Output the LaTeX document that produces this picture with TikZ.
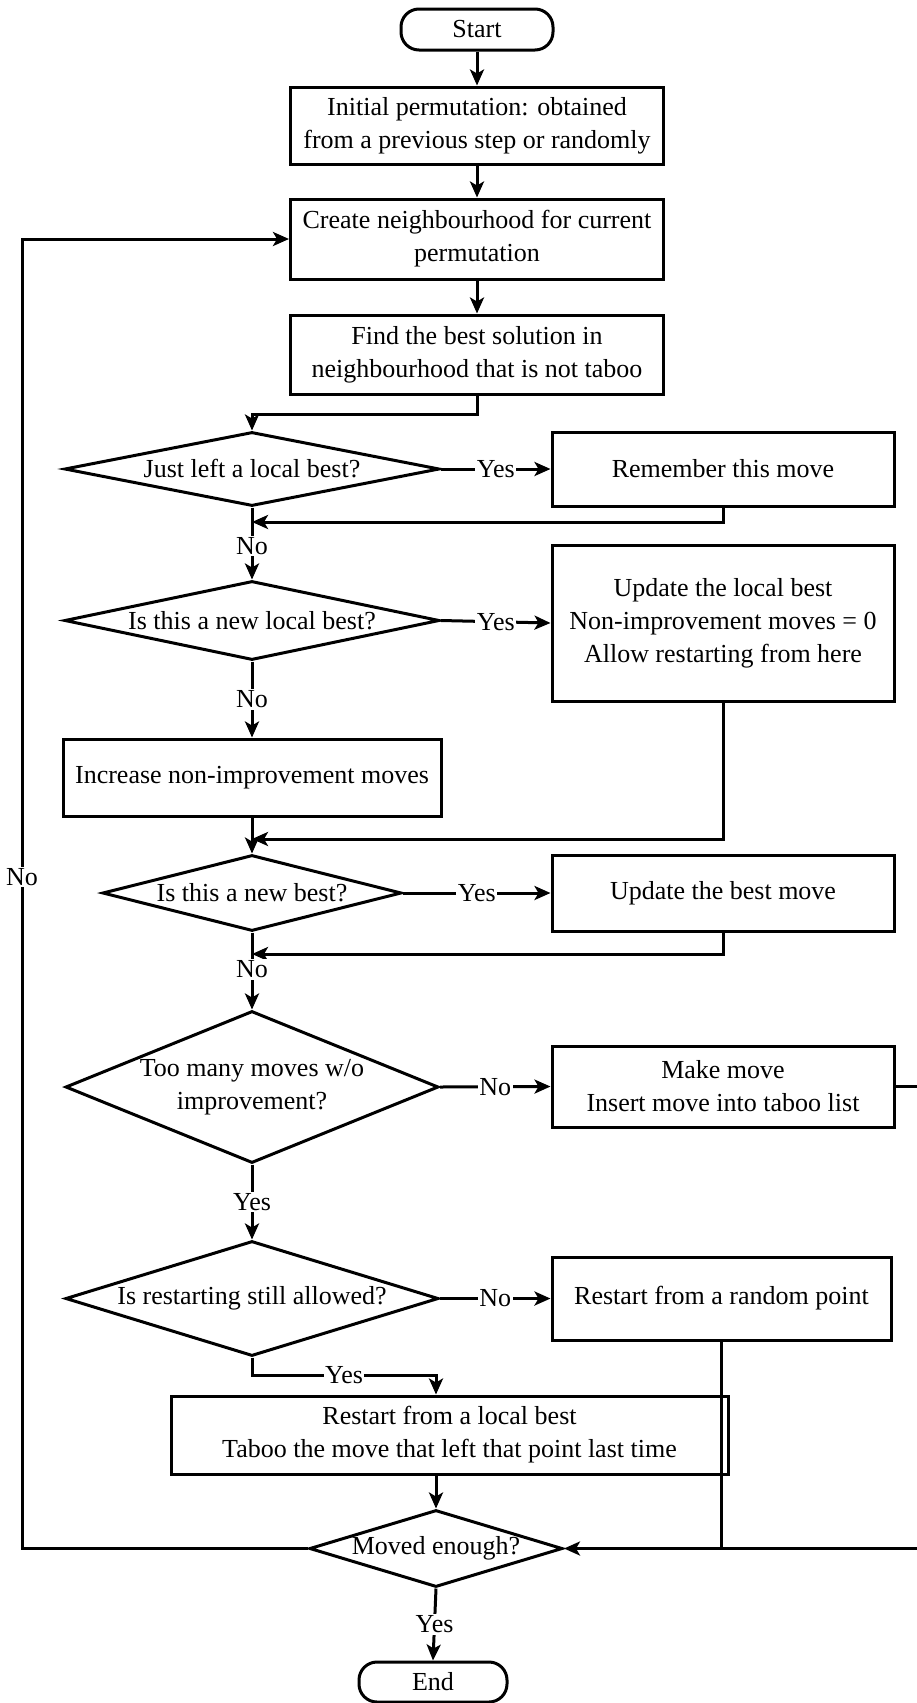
\documentclass[tikz,border=0pt]{standalone}
\usepackage{fontspec}
\setmainfont{Liberation Serif}
\usetikzlibrary{shapes.geometric,arrows.meta,calc}
\begin{document}
\begin{tikzpicture}[x=1pt,y=-1pt,
  font=\fontsize{26}{33}\selectfont,
  line width=3pt,
  box/.style={draw, rectangle, inner sep=0pt, align=center},
  term/.style={draw, rectangle, rounded corners=18pt, inner sep=0pt},
  dia/.style={draw, diamond, inner sep=0pt},
  arr/.style={-{Stealth[length=16pt,width=14pt,inset=4pt]}},
  lbl/.style={fill=white, inner sep=1.5pt}]
\useasboundingbox (0,0) rectangle (916,1703);

% main column
\node[term, minimum width=152pt, minimum height=41pt] (start) at (477,29.5) {Start};
\node[box, minimum width=373pt, minimum height=77pt] (init) at (477,125.5)
  {Initial permutation: obtained\\from a previous step or randomly};
\node[box, minimum width=373pt, minimum height=80pt] (create) at (477,239)
  {Create neighbourhood for current\\permutation};
\node[box, minimum width=373pt, minimum height=79pt] (find) at (477,354.5)
  {Find the best solution in\\neighbourhood that is not taboo};

% decisions on the left column
\node[dia, minimum width=375pt, minimum height=74pt,
  label={center:Just left a local best?}] (d1) at (252,469) {};
\node[dia, minimum width=375pt, minimum height=79pt,
  label={center:Is this a new local best?}] (d2) at (252,620.5) {};
\node[box, minimum width=378pt, minimum height=77pt] (inc) at (252,777.5)
  {Increase non-improvement moves};
\node[dia, minimum width=299pt, minimum height=76pt,
  label={center:Is this a new best?}] (d3) at (252,893) {};
\node[dia, minimum width=373pt, minimum height=152pt,
  label={[align=center]center:Too many moves w/o\\improvement?}] (d4) at (252,1087) {};
\node[dia, minimum width=373pt, minimum height=115pt,
  label={center:Is restarting still allowed?}] (d5) at (252,1298.5) {};
\node[box, minimum width=557pt, minimum height=78pt] (rl) at (449.5,1435)
  {Restart from a local best\\Taboo the move that left that point last time};
\node[dia, minimum width=253pt, minimum height=77pt,
  label={center:Moved enough?}] (moved) at (436,1548.5) {};
\node[term, minimum width=148pt, minimum height=40pt] (end) at (433,1682) {End};

% actions on the right column
\node[box, minimum width=342pt, minimum height=74pt] (rem) at (723,469)
  {Remember this move};
\node[box, minimum width=342pt, minimum height=156pt] (upl) at (723,623)
  {Update the local best\\Non-improvement moves = 0\\Allow restarting from here};
\node[box, minimum width=342pt, minimum height=76pt] (upb) at (723,893)
  {Update the best move};
\node[box, minimum width=342pt, minimum height=81pt] (mm) at (723,1086.5)
  {Make move\\Insert move into taboo list};
\node[box, minimum width=339pt, minimum height=83pt] (rr) at (721.5,1298.5)
  {Restart from a random point};

% junction points
\coordinate (j1) at (252,522);
\coordinate (j2) at (252,839);
\coordinate (j3) at (252,954);
\coordinate (k) at (436,1375);
\coordinate (rt) at (935,1086.5);
\coordinate (lb) at (22,1548.5);
\coordinate (lt) at (22,239);

% connectors
\draw[arr] (start) -- (init);
\draw[arr] (init) -- (create);
\draw[arr] (create) -- (find);
\draw[arr] (find.south) -- ++(0,19) -| (d1.north);

\draw[arr] (d1.east) -- node[lbl]{Yes} (rem.west);
\draw[arr] (rem.south) |- (j1);
\draw[arr] (d1.south) -- node[lbl, pos=0.53]{No} (d2.north);

\draw[arr] (d2.east) -- node[lbl]{Yes} (upl.west);
\draw[arr] (d2.south) -- node[lbl]{No} (inc.north);
\draw[arr] (upl.south) |- (j2);
\draw[arr] (inc.south) -- (d3.north);

\draw[arr] (d3.east) -- node[lbl]{Yes} (upb.west);
\draw[arr] (upb.south) |- (j3);
\draw[arr] (d3.south) -- node[lbl, pos=0.48]{No} (d4.north);

\draw[arr] (d4.east) -- node[lbl]{No} (mm.west);
\draw[arr] (mm.east) -- (rt) |- (moved.east);
\draw[arr] (d4.south) -- node[lbl]{Yes} (d5.north);

\draw[arr] (d5.east) -- node[lbl]{No} (rr.west);
\draw (rr.south) -- (rr.south |- moved.east);
\draw[arr] (d5.south) |- node[lbl, pos=0.75]{Yes} (k) -- (k |- rl.north);

\draw[arr] (rl.south -| moved.north) -- (moved.north);
\draw[arr] (moved.west) -- (lb) -- node[lbl, pos=0.513]{No} (lt) -- (create.west);
\draw[arr] (moved.south) -- node[lbl]{Yes} (end.north);
\end{tikzpicture}
\end{document}
